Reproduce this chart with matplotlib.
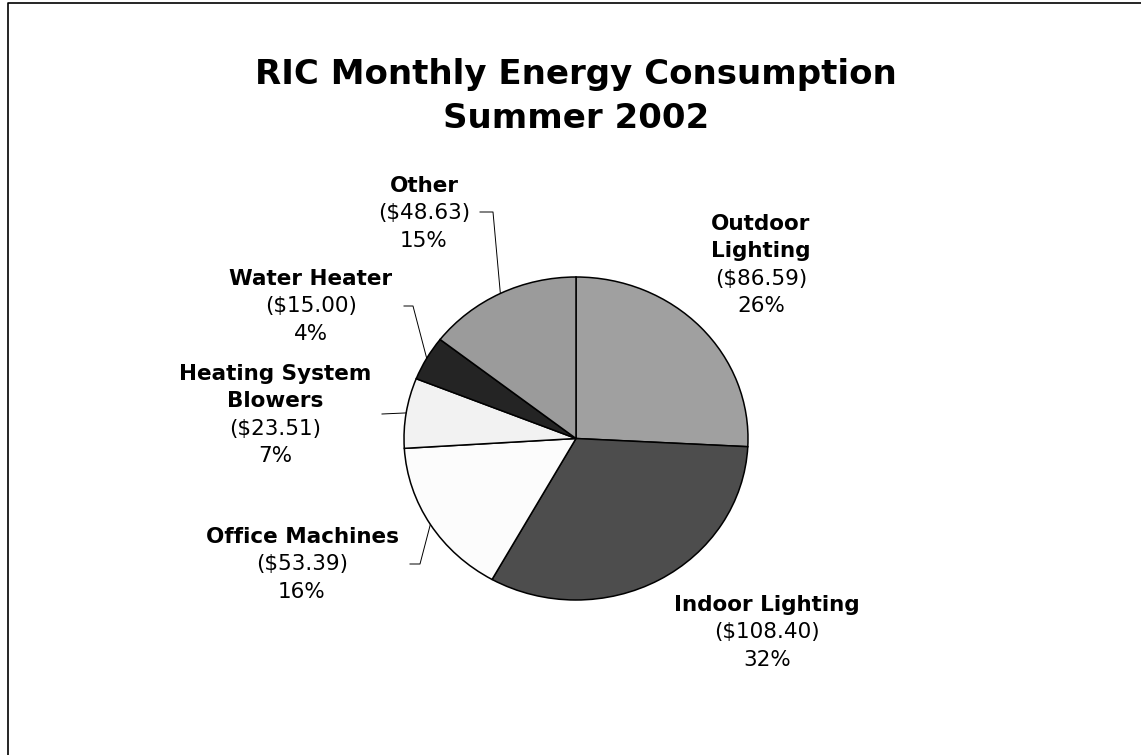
import numpy as np
import matplotlib.pyplot as plt
from matplotlib.lines import Line2D

# Data
categories = ['Outdoor Lighting', 'Indoor Lighting', 'Office Machines',
              'Heating System Blowers', 'Water Heater', 'Other']
costs = [86.59, 108.40, 53.39, 23.51, 15.00, 48.63]
percents = [26, 32, 16, 7, 4, 15]  # as printed on the chart
colors = ['#a0a0a0', '#4d4d4d', '#fcfcfc', '#f2f2f2', '#242424', '#9b9b9b']

W, H = 1141, 755
fig = plt.figure(figsize=(W / 100, H / 100), dpi=100)
plt.rcParams['font.family'] = ['DejaVu Sans']


def fx(x):
    return x / W


def fy(y):
    return 1 - y / H


# pie axes: centre (576, 438.5), radii 172 x 161.5 px
cx, cy, rx, ry = 576, 438.5, 172, 161.5
ax = fig.add_axes([fx(cx - rx), fy(cy + ry), 2 * rx / W, 2 * ry / H])
wedges, _ = ax.pie(costs, colors=colors, startangle=90, counterclock=False,
                   wedgeprops=dict(edgecolor='black', linewidth=1.1))
ax.set_aspect('auto')
ax.set_xlim(-1, 1)
ax.set_ylim(-1, 1)
ax.axis('off')

# title
fig.text(fx(576), fy(84), 'RIC Monthly Energy Consumption', ha='center', va='baseline',
         fontsize=24.5, fontweight='bold')
fig.text(fx(576), fy(128), 'Summer 2002', ha='center', va='baseline',
         fontsize=24.5, fontweight='bold')

# label layout: centre x, first baseline y, bold name lines
label_layout = {
    'Outdoor Lighting': (761, 230, ['Outdoor', 'Lighting']),
    'Indoor Lighting': (767, 611, ['Indoor Lighting']),
    'Office Machines': (302, 543, ['Office Machines']),
    'Heating System Blowers': (275, 380, ['Heating System', 'Blowers']),
    'Water Heater': (311, 285, ['Water Heater']),
    'Other': (424, 192, ['Other']),
}
line_h = 27.3
fs = 15.5
for name, cost, pct in zip(categories, costs, percents):
    x, y, lines = label_layout[name]
    for i, ln in enumerate(lines):
        fig.text(fx(x), fy(y + i * line_h), ln, ha='center', va='baseline',
                 fontsize=fs, fontweight='bold')
    n = len(lines)
    fig.text(fx(x), fy(y + n * line_h), f'(${cost:.2f})', ha='center', va='baseline', fontsize=fs)
    fig.text(fx(x), fy(y + (n + 1) * line_h), f'{pct}%', ha='center', va='baseline', fontsize=fs)

# leader lines: pixel points from label, ending at wedge mid-angle on the rim
leaders = {
    'Other': [(480, 212), (493, 212)],
    'Water Heater': [(404, 306), (413, 306)],
    'Heating System Blowers': [(382, 414)],
    'Office Machines': [(410, 564), (420, 564)],
}
inv = fig.transFigure.inverted()
for w, name in zip(wedges, categories):
    if name not in leaders:
        continue
    mid = np.deg2rad((w.theta1 + w.theta2) / 2)
    ex, ey = inv.transform(ax.transData.transform((np.cos(mid), np.sin(mid))))
    xs = [fx(p[0]) for p in leaders[name]] + [ex]
    ys = [fy(p[1]) for p in leaders[name]] + [ey]
    fig.add_artist(Line2D(xs, ys, color='black', linewidth=0.7, transform=fig.transFigure))

# outer frame (left and top edges visible)
fig.add_artist(Line2D([fx(7.5), fx(7.5), 1.01], [-0.01, fy(3), fy(3)],
                      color='black', linewidth=1.2, transform=fig.transFigure))

fig.savefig('out.png', dpi=100, facecolor='white')
